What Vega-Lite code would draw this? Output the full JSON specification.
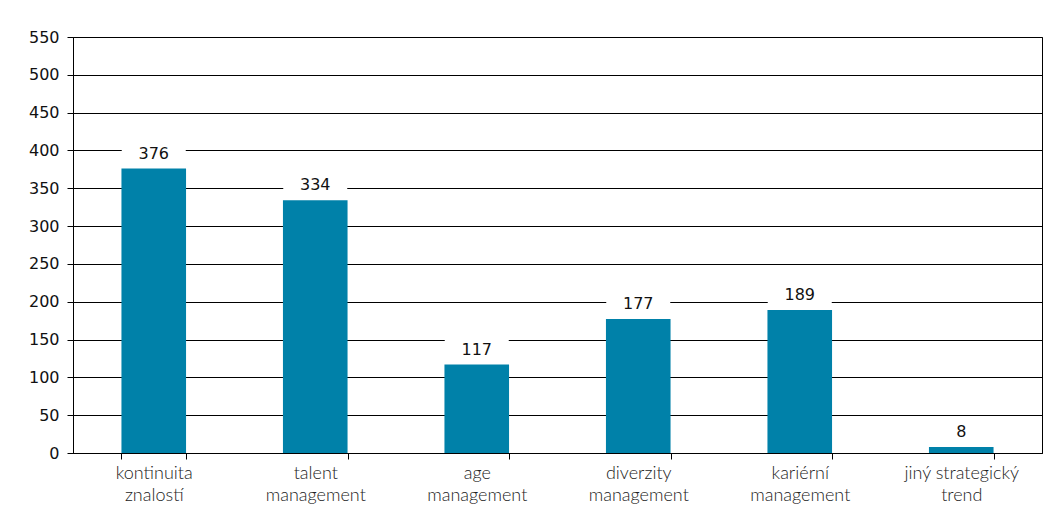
{
  "$schema": "https://vega.github.io/schema/vega-lite/v6.json",
  "width": 969,
  "height": 416,
  "autosize": {"type": "none"},
  "padding": {"left": 73, "top": 37, "right": 9, "bottom": 67},
  "background": "white",
  "config": {
    "view": {"stroke": "#000", "strokeWidth": 1},
    "font": "DejaVu Sans"
  },
  "data": {
    "values": [
      {"kategorie": "kontinuita znalostí", "pocet": 376},
      {"kategorie": "talent management", "pocet": 334},
      {"kategorie": "age management", "pocet": 117},
      {"kategorie": "diverzity management", "pocet": 177},
      {"kategorie": "kariérní management", "pocet": 189},
      {"kategorie": "jiný strategický trend", "pocet": 8}
    ]
  },
  "encoding": {
    "x": {
      "field": "kategorie",
      "type": "nominal",
      "sort": null,
      "scale": {"paddingInner": 0.6, "paddingOuter": 0.3},
      "axis": {
        "title": null,
        "labelAngle": 0,
        "labelFont": "Lato",
        "labelFontSize": 18,
        "labelFontWeight": 300,
        "labelColor": "#222",
        "labelLineHeight": 22,
        "labelPadding": 5,
        "labelBaseline": "top",
        "labelExpr": "datum.value == null ? '' : (datum.value == 'jiný strategický trend' ? ['jiný strategický', 'trend'] : split(datum.value, ' '))",
        "tickBand": "extent",
        "tickSize": 6,
        "tickColor": "#000",
        "domainColor": "#000",
        "grid": false
      }
    },
    "y": {
      "field": "pocet",
      "type": "quantitative",
      "scale": {"domain": [0, 550], "nice": false},
      "axis": {
        "title": null,
        "values": [0, 50, 100, 150, 200, 250, 300, 350, 400, 450, 500, 550],
        "labelFont": "DejaVu Sans",
        "labelFontSize": 16,
        "labelColor": "#111",
        "labelPadding": 8,
        "tickSize": 6,
        "tickColor": "#000",
        "domainColor": "#000",
        "gridColor": "#000",
        "gridOpacity": 1
      }
    }
  },
  "layer": [
    {"mark": {"type": "bar", "color": "#0081a9"}},
    {
      "mark": {
        "type": "point",
        "filled": true,
        "shape": "M-1,-0.36H1V0.36H-1Z",
        "size": 4096,
        "color": "white",
        "opacity": 1,
        "yOffset": -15
      }
    },
    {
      "mark": {
        "type": "text",
        "baseline": "middle",
        "yOffset": -15,
        "font": "DejaVu Sans",
        "fontSize": 16,
        "color": "#111"
      },
      "encoding": {"text": {"field": "pocet", "type": "quantitative"}}
    }
  ]
}
